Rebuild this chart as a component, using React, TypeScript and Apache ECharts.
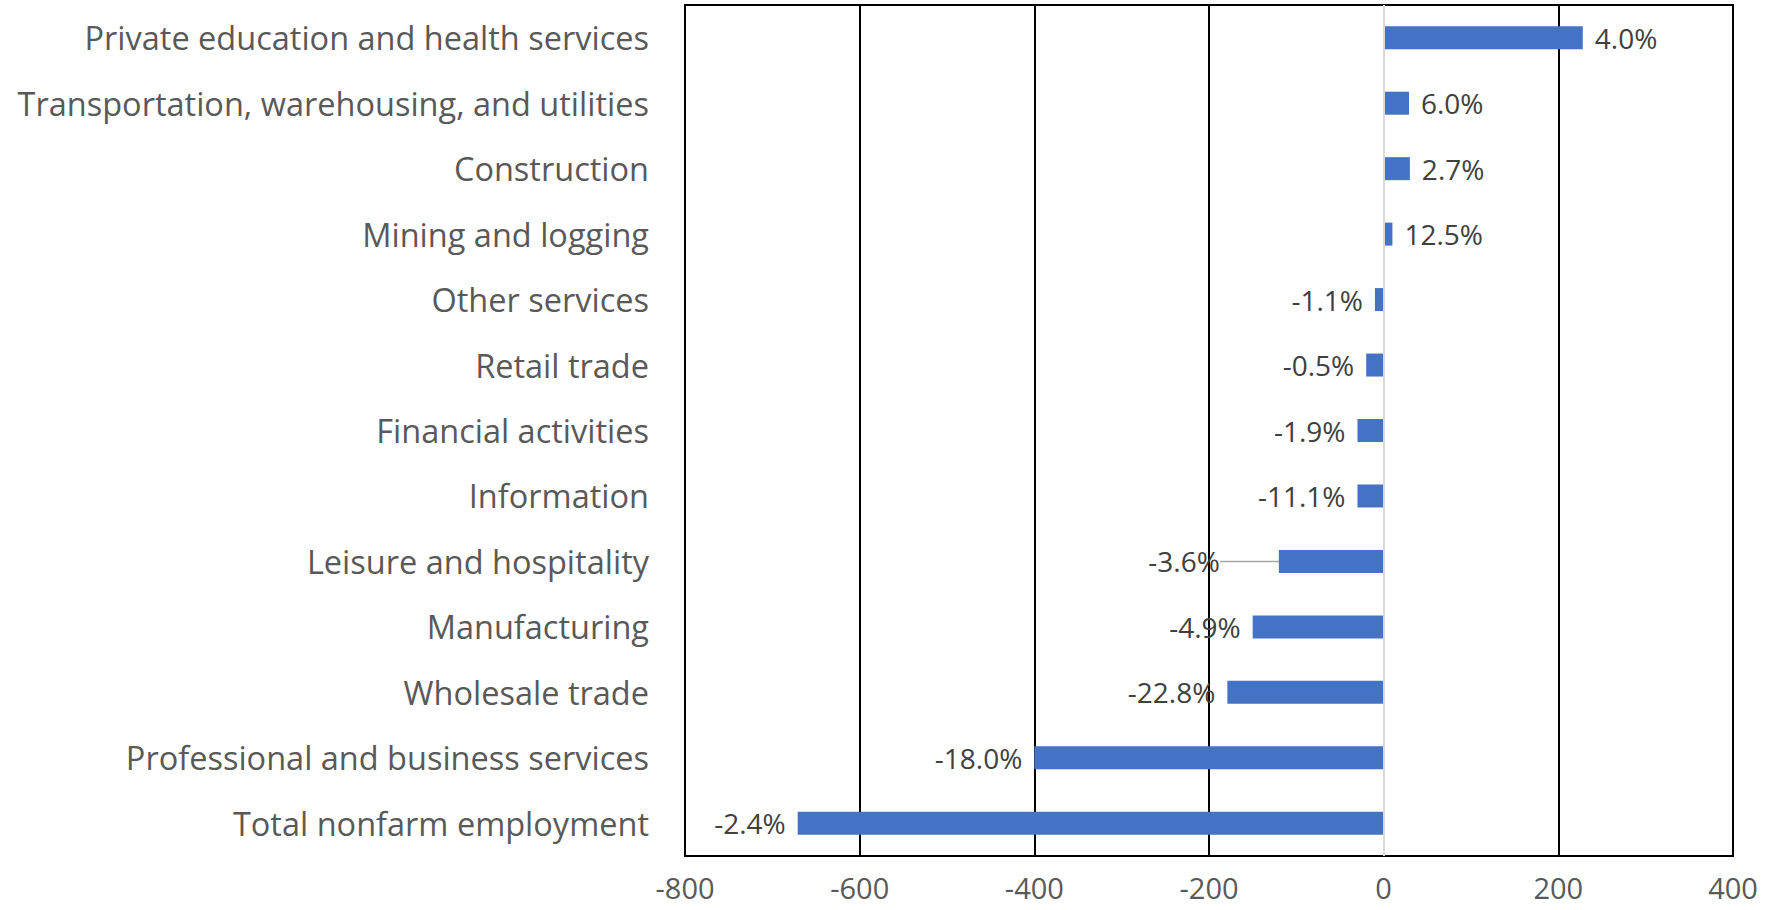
import React, { useEffect, useRef } from "react";
import * as echarts from "echarts";

// Categories listed top to bottom
const categories: string[] = [
  "Private education and health services",
  "Transportation, warehousing, and utilities",
  "Construction",
  "Mining and logging",
  "Other services",
  "Retail trade",
  "Financial activities",
  "Information",
  "Leisure and hospitality",
  "Manufacturing",
  "Wholesale trade",
  "Professional and business services",
  "Total nonfarm employment",
];

// Employment change (thousands)
const changes: number[] = [228, 29, 30, 10, -10, -20, -30, -30, -120, -150, -179, -400, -671];

// Percent change labels shown next to the bars
const pctLabels: string[] = [
  "4.0%", "6.0%", "2.7%", "12.5%", "-1.1%", "-0.5%", "-1.9%",
  "-11.1%", "-3.6%", "-4.9%", "-22.8%", "-18.0%", "-2.4%",
];

const xMin = -800;
const xMax = 400;
const xStep = 200;

const FONT = "'Open Sans', 'Noto Sans', sans-serif";

export default function App() {
  const ref = useRef<HTMLDivElement>(null);

  useEffect(() => {
    const chart = echarts.init(ref.current!, null, { renderer: "svg" });
    const movedIdx = categories.indexOf("Leisure and hospitality");
    const data = changes.map((v, i) => {
      const item: any = {
        value: v,
        label: { position: v >= 0 ? "right" : "left" },
      };
      if (i === movedIdx) {
        item.labelLine = { show: true, lineStyle: { color: "#a6a6a6", width: 1.5 } };
      }
      return item;
    });

    chart.setOption({
      animation: false,
      backgroundColor: "#ffffff",
      grid: {
        left: 685,
        right: 36,
        top: 5,
        bottom: 54,
        containLabel: false,
        show: true,
        borderColor: "#000000",
        borderWidth: 2,
        backgroundColor: "transparent",
      },
      xAxis: {
        type: "value",
        min: xMin,
        max: xMax,
        interval: xStep,
        axisLine: { show: false },
        axisTick: { show: false },
        splitLine: { show: true, lineStyle: { color: "#000000", width: 2 } },
        axisLabel: {
          fontSize: 29,
          lineHeight: 29,
          color: "#595959",
          fontFamily: FONT,
          margin: 17,
        },
      },
      yAxis: {
        type: "category",
        inverse: true,
        data: categories,
        axisLine: { show: false },
        axisTick: { show: false },
        splitLine: { show: false },
        axisLabel: {
          fontSize: 32.5,
          color: "#595959",
          fontFamily: FONT,
          margin: 36,
        },
      },
      series: [
        {
          type: "bar",
          data,
          barWidth: 23,
          itemStyle: { color: "#4472C4" },
          label: {
            show: true,
            distance: 12,
            fontSize: 28,
            color: "#404040",
            fontFamily: FONT,
            formatter: (p: any) => pctLabels[p.dataIndex],
          },
          labelLine: { show: false },
          labelLayout: (params: any) =>
            params.dataIndex === movedIdx ? { dx: -47 } : {},
          markLine: {
            silent: true,
            symbol: "none",
            label: { show: false },
            lineStyle: { color: "#d9d9d9", width: 2, type: "solid" },
            data: [{ xAxis: 0 }],
          },
        },
      ],
    });

    return () => chart.dispose();
  }, []);

  return (
    <div
      ref={ref}
      style={{
        position: "fixed",
        left: 0,
        top: 0,
        width: 1769,
        height: 910,
        background: "#ffffff",
      }}
    />
  );
}
